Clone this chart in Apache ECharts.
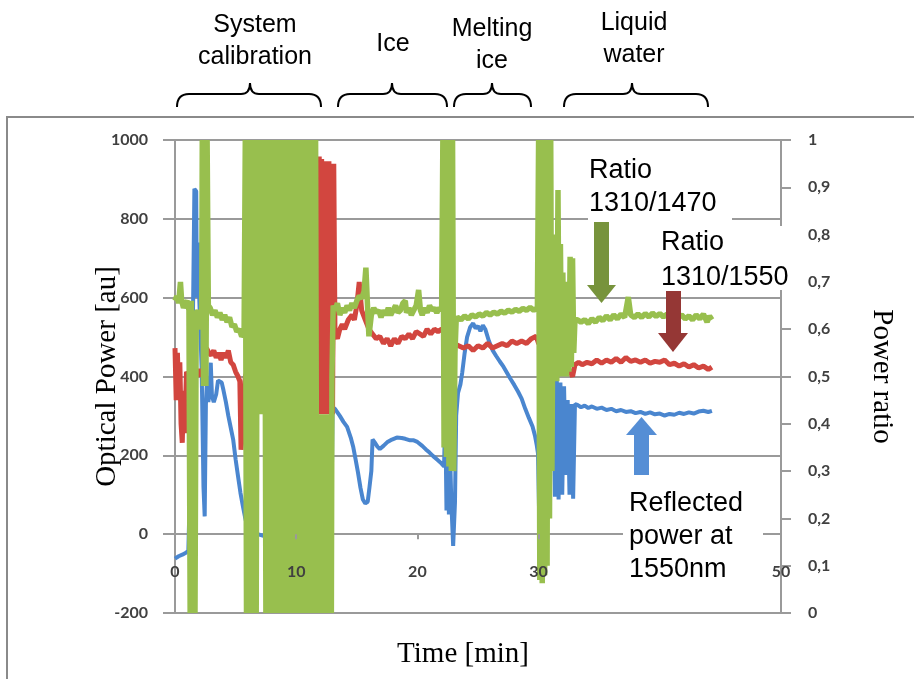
<!DOCTYPE html>
<html>
<head>
<meta charset="utf-8">
<title>Optical power and power ratio vs time</title>
<script src="https://cdn.jsdelivr.net/npm/echarts@6/dist/echarts.min.js"></script>
<style>
  html, body { margin: 0; padding: 0; background: #fff; }
  #chart { width: 914px; height: 679px; }
</style>
</head>
<body>
<div id="chart"></div>
<script>
// [time (min), value] pairs
const reflectedPower = [
  [0, -62], [0.3, -56], [0.6, -52], [0.9, -47], [1.1, -42], [1.3, 200], [1.5, 600], [1.6, 876], [1.75, 870],
  [1.8, 600], [1.9, 740], [2.0, 600], [2.2, 420], [2.35, 120], [2.45, 45], [2.55, 330], [2.65, 400], [2.75, 335],
  [2.85, 360], [2.95, 435], [3.05, 350], [3.2, 335], [3.4, 355], [3.55, 390], [3.7, 392], [3.85, 385], [4.0, 365],
  [4.2, 335], [4.4, 300], [4.6, 270], [4.8, 240], [5.0, 190], [5.2, 147], [5.4, 105], [5.6, 71], [5.8, 40], [6.0, 13],
  [6.4, 4], [6.8, 0], [7.3, -4], [8.5, 0], [10.0, 0], [11.5, 0], [12.9, 0], [13.0, 322], [13.2, 318], [13.6, 300],
  [13.9, 285], [14.2, 272], [14.5, 245], [14.7, 222], [14.9, 190], [15.1, 156], [15.3, 118], [15.5, 88], [15.7, 78],
  [15.9, 82], [16.05, 120], [16.2, 160], [16.3, 240], [16.5, 232], [16.7, 222], [16.9, 216], [17.2, 224], [17.5, 233],
  [17.9, 240], [18.3, 245], [18.7, 244], [19.0, 242], [19.4, 238], [19.7, 238], [20.0, 234], [20.4, 224], [20.7, 215],
  [21.0, 207], [21.3, 198], [21.6, 190], [21.9, 182], [22.2, 172], [22.3, 310], [22.4, 60], [22.5, 250], [22.6, 50],
  [22.7, 200], [22.8, 80], [22.95, -30], [23.1, 80], [23.2, 300], [23.35, 358], [23.55, 380], [23.7, 410], [23.9, 460],
  [24.1, 500], [24.35, 525], [24.6, 535], [24.8, 522], [25.0, 528], [25.2, 515], [25.4, 530], [25.6, 520], [25.9, 490],
  [26.2, 467], [26.5, 452], [26.8, 438], [27.1, 425], [27.4, 409], [27.7, 393], [28.0, 378], [28.3, 362], [28.6, 344],
  [28.9, 318], [29.2, 295], [29.5, 273], [29.7, 250], [29.85, 225], [29.95, 205], [30.05, 40], [30.15, -15], [30.3, -25],
  [30.6, 60], [30.9, 250], [31.2, 400], [31.35, 95], [31.5, 395], [31.65, 88], [31.8, 385], [31.95, 100], [32.1, 375],
  [32.25, 150], [32.4, 340], [32.55, 100], [32.7, 330], [32.85, 90], [33.0, 330], [33.2, 328], [33.5, 322], [33.8, 326],
  [34.1, 320], [34.4, 324], [34.8, 318], [35.2, 321], [35.6, 315], [36.0, 318], [36.4, 312], [36.8, 315], [37.2, 310],
  [37.6, 312], [38.0, 307], [38.4, 310], [38.8, 305], [39.2, 309], [39.6, 304], [40.0, 306], [40.4, 301], [40.8, 305],
  [41.2, 303], [41.6, 308], [42.0, 305], [42.4, 309], [42.8, 306], [43.2, 311], [43.6, 313], [44.0, 310], [44.3, 313]
];

const ratio1310to1550 = [
  [0, 0.56], [0.1, 0.45], [0.2, 0.55], [0.3, 0.46], [0.4, 0.53], [0.5, 0.40], [0.6, 0.36], [0.7, 0.47], [0.8, 0.38],
  [0.95, 0.51], [1.2, 0.50], [1.5, 0.51], [1.8, 0.50], [2.0, 0.515], [2.2, 0.50], [2.4, 0.52], [2.6, 0.56], [2.8, 0.55],
  [3.0, 0.545], [3.2, 0.555], [3.4, 0.54], [3.6, 0.55], [3.8, 0.535], [4.0, 0.55], [4.2, 0.54], [4.4, 0.555], [4.6, 0.53],
  [4.8, 0.525], [5.0, 0.51], [5.2, 0.50], [5.35, 0.49], [5.45, 0.345], [5.6, 0.40], [5.8, 0.5], [6.5, 0.55], [7.6, 0.66],
  [7.7, 0.99], [7.8, 0.66], [9.0, 0.6], [11.6, 0.6],
  [11.7, 0.96], [11.8, 0.42], [11.9, 0.965], [12.0, 0.42], [12.1, 0.96], [12.2, 0.42], [12.3, 0.955], [12.4, 0.42],
  [12.5, 0.955], [12.6, 0.42], [12.7, 0.955], [12.8, 0.42], [12.9, 0.95], [13.0, 0.42], [13.1, 0.95],
  [13.2, 0.59], [13.4, 0.58], [13.6, 0.60], [13.8, 0.61], [14.0, 0.60], [14.3, 0.62], [14.6, 0.63], [14.8, 0.62],
  [15.0, 0.65], [15.2, 0.70], [15.4, 0.64], [15.7, 0.62], [16.0, 0.60], [16.3, 0.59], [16.6, 0.58], [16.9, 0.585],
  [17.2, 0.57], [17.5, 0.58], [17.8, 0.565], [18.1, 0.58], [18.4, 0.57], [18.7, 0.585], [19.0, 0.58], [19.3, 0.59],
  [19.6, 0.58], [19.9, 0.595], [20.2, 0.59], [20.5, 0.585], [20.8, 0.60], [21.1, 0.59], [21.4, 0.60], [21.7, 0.595],
  [22.0, 0.60], [22.5, 0.58], [23.0, 0.57], [23.4, 0.565], [23.8, 0.56], [24.2, 0.565], [24.6, 0.555], [25.0, 0.565],
  [25.4, 0.56], [25.8, 0.57], [26.2, 0.56], [26.6, 0.565], [27.0, 0.57], [27.4, 0.565], [27.8, 0.575], [28.2, 0.57],
  [28.6, 0.575], [29.0, 0.57], [29.4, 0.58], [29.8, 0.585], [30.0, 0.57], [31.0, 0.56], [31.5, 0.55], [32.0, 0.54],
  [32.4, 0.52], [32.8, 0.50], [33.0, 0.525], [33.3, 0.53], [33.6, 0.525], [34.0, 0.53], [34.4, 0.527], [34.8, 0.535],
  [35.2, 0.528], [35.6, 0.535], [36.0, 0.53], [36.4, 0.538], [36.8, 0.53], [37.2, 0.54], [37.6, 0.532], [38.0, 0.535],
  [38.4, 0.53], [38.8, 0.535], [39.2, 0.528], [39.6, 0.532], [40.0, 0.53], [40.4, 0.535], [40.8, 0.525], [41.2, 0.528],
  [41.6, 0.522], [42.0, 0.527], [42.4, 0.52], [42.8, 0.525], [43.2, 0.518], [43.6, 0.522], [44.0, 0.515], [44.3, 0.52]
];

const ratio1310to1470 = [
  [0, 0.66], [0.15, 0.67], [0.3, 0.655], [0.45, 0.70], [0.55, 0.66], [0.7, 0.645], [0.85, 0.655], [1.0, 0.66],
  [1.15, 0.64], [1.25, 0.0], [1.35, 0.66], [1.45, 0.0], [1.55, 0.64], [1.65, 0.0], [1.75, 0.63], [1.9, 0.64],
  [2.05, 0.62], [2.2, 0.60], [2.25, 1.0], [2.35, 0.48], [2.45, 1.0], [2.55, 0.48], [2.65, 1.0], [2.75, 0.65],
  [2.9, 0.645], [3.1, 0.63], [3.3, 0.64], [3.5, 0.625], [3.7, 0.635], [3.9, 0.62], [4.1, 0.63], [4.3, 0.615],
  [4.5, 0.625], [4.7, 0.605], [4.9, 0.61], [5.1, 0.595], [5.3, 0.60], [5.5, 0.585], [5.7, 0.59],
  [5.8, 1], [5.9, 0], [6.0, 1], [6.1, 0], [6.2, 1], [6.3, 0], [6.4, 1], [6.5, 0], [6.6, 1], [6.7, 0],
  [6.8, 1], [6.9, 0.42], [7.0, 1], [7.1, 0.42], [7.2, 1], [7.3, 0.42], [7.4, 1], [7.5, 0], [7.6, 1], [7.7, 0],
  [7.8, 1], [7.9, 0], [8.0, 1], [8.1, 0], [8.2, 1], [8.3, 0], [8.4, 1], [8.5, 0], [8.6, 1], [8.7, 0], [8.8, 1],
  [8.9, 0], [9.0, 1], [9.1, 0], [9.2, 1], [9.3, 0], [9.4, 1], [9.5, 0], [9.6, 1], [9.7, 0], [9.8, 1], [9.9, 0],
  [10.0, 1], [10.1, 0], [10.2, 1], [10.3, 0], [10.4, 1], [10.5, 0], [10.6, 1], [10.7, 0], [10.8, 1], [10.9, 0],
  [11.0, 1], [11.1, 0], [11.2, 1], [11.3, 0], [11.4, 1], [11.5, 0], [11.6, 1], [11.7, 0], [11.8, 0.42], [11.9, 0],
  [12.0, 0.42], [12.1, 0], [12.2, 0.42], [12.3, 0], [12.4, 0.42], [12.5, 0], [12.6, 0.42], [12.7, 0], [12.8, 0.42],
  [12.9, 0], [12.95, 0.5], [13.05, 0.65], [13.2, 0.64], [13.4, 0.655], [13.6, 0.63], [13.8, 0.645], [14.0, 0.635],
  [14.2, 0.65], [14.4, 0.64], [14.6, 0.655], [14.8, 0.645], [15.0, 0.66], [15.2, 0.67], [15.4, 0.665], [15.6, 0.68],
  [15.75, 0.73], [15.9, 0.64], [16.0, 0.585], [16.2, 0.63], [16.4, 0.645], [16.6, 0.635], [16.8, 0.64], [17.0, 0.625],
  [17.2, 0.64], [17.4, 0.63], [17.6, 0.645], [17.8, 0.63], [18.0, 0.64], [18.2, 0.65], [18.4, 0.635], [18.6, 0.64],
  [18.8, 0.655], [19.0, 0.66], [19.1, 0.635], [19.3, 0.645], [19.5, 0.63], [19.7, 0.64], [19.9, 0.65], [20.1, 0.683],
  [20.25, 0.64], [20.4, 0.63], [20.6, 0.645], [20.8, 0.635], [21.0, 0.65], [21.2, 0.64], [21.4, 0.645], [21.6, 0.635],
  [21.8, 0.645], [22.0, 0.64], [22.1, 1], [22.2, 0.35], [22.3, 1], [22.4, 0.33], [22.5, 1], [22.6, 0.31], [22.7, 1],
  [22.8, 0.3], [22.9, 1], [23.0, 0.3], [23.1, 0.55], [23.2, 0.62], [23.3, 0.625], [23.6, 0.62], [23.9, 0.628],
  [24.2, 0.622], [24.5, 0.63], [24.8, 0.626], [25.1, 0.632], [25.4, 0.628], [25.7, 0.635], [26.0, 0.63], [26.3, 0.636],
  [26.6, 0.632], [26.9, 0.638], [27.2, 0.634], [27.5, 0.64], [27.8, 0.636], [28.1, 0.642], [28.4, 0.638], [28.7, 0.644],
  [29.0, 0.64], [29.3, 0.646], [29.6, 0.64], [29.9, 0.645], [30.0, 1], [30.1, 0.07], [30.2, 1], [30.3, 0.063],
  [30.4, 1], [30.5, 0.08], [30.6, 1], [30.7, 0.1], [30.8, 1], [30.9, 0.2], [31.0, 1], [31.1, 0.3], [31.2, 0.75],
  [31.3, 0.5], [31.4, 0.8], [31.5, 0.49], [31.6, 0.894], [31.7, 0.5], [31.8, 0.78], [31.9, 0.5], [32.0, 0.72],
  [32.1, 0.5], [32.2, 0.7], [32.3, 0.5], [32.4, 0.7], [32.5, 0.51], [32.6, 0.753], [32.7, 0.52], [32.8, 0.75],
  [32.9, 0.55], [33.0, 0.62], [33.2, 0.62], [33.5, 0.615], [33.8, 0.62], [34.1, 0.612], [34.4, 0.622], [34.7, 0.615],
  [35.0, 0.625], [35.3, 0.618], [35.6, 0.628], [35.9, 0.62], [36.2, 0.63], [36.5, 0.622], [36.8, 0.632], [37.1, 0.625],
  [37.4, 0.668], [37.6, 0.63], [37.9, 0.625], [38.2, 0.632], [38.5, 0.625], [38.8, 0.633], [39.1, 0.626], [39.4, 0.634],
  [39.7, 0.627], [40.0, 0.633], [40.3, 0.626], [40.6, 0.632], [40.9, 0.625], [41.2, 0.631], [41.5, 0.624], [41.8, 0.63],
  [42.1, 0.622], [42.4, 0.628], [42.7, 0.62], [43.0, 0.63], [43.3, 0.622], [43.6, 0.632], [43.9, 0.615], [44.1, 0.628],
  [44.3, 0.62]
];

const timeRange = [0, 50, 10];
const powerRange = [-200, 1000, 200];
const ratioRange = [0, 1, 0.1];
const phaseLabels = ['System\ncalibration', 'Ice', 'Melting\nice', 'Liquid\nwater'];
const arrowLabels = ['Ratio\n1310/1470', 'Ratio\n1310/1550', 'Reflected\npower at\n1550nm'];

const GRID = '#9a9a9a';
const tickFont = { fontFamily: 'Lato', fontWeight: 'bold', fontSize: 16, color: '#404040' };
const titleFont = { fontFamily: '"Liberation Serif"', fontSize: 29, color: '#000' };
const phaseFont = '25px "Liberation Sans"';
const calloutFont = '27px "Liberation Sans"';

// x axis sits on power = 0, i.e. 1000/1200 of the way down the 473px plot
const plotHeight = 679 - 140 - 66;
const zeroOffset = plotHeight * (0 - powerRange[0]) / (powerRange[1] - powerRange[0]);

// horizontal curly brace made of quadratic curves and straight lines
const brace = (x1, xm, x2) => {
  const stroke = { fill: 'none', stroke: '#000', lineWidth: 2 };
  const top = 94, end = 107, tip = 83;
  return {
    type: 'group', z: 110,
    children: [
      { type: 'bezierCurve', shape: { x1, y1: end, cpx1: x1, cpy1: top, x2: x1 + 12, y2: top }, style: stroke },
      { type: 'line', shape: { x1: x1 + 12, y1: top, x2: xm - 9, y2: top }, style: stroke },
      { type: 'bezierCurve', shape: { x1: xm - 9, y1: top, cpx1: xm, cpy1: top, x2: xm, y2: tip }, style: stroke },
      { type: 'bezierCurve', shape: { x1: xm, y1: tip, cpx1: xm, cpy1: top, x2: xm + 9, y2: top }, style: stroke },
      { type: 'line', shape: { x1: xm + 9, y1: top, x2: x2 - 12, y2: top }, style: stroke },
      { type: 'bezierCurve', shape: { x1: x2 - 12, y1: top, cpx1: x2, cpy1: top, x2, y2: end }, style: stroke }
    ]
  };
};

const note = (text, x, y, align, lineHeight, font) => ({
  type: 'text', x, y, z: 110,
  style: { text, font, fill: '#000', align, verticalAlign: 'top', lineHeight }
});

const whiteBox = (x, y, width, height) => ({
  type: 'rect', z: 100, shape: { x, y, width, height }, style: { fill: '#fff' }
});

const chart = echarts.init(document.getElementById('chart'));

chart.setOption({
  animation: false,
  grid: { left: 175, right: 133, top: 140, bottom: 66, outerBoundsMode: 'none', containLabel: false },
  xAxis: {
    type: 'value', position: 'bottom', offset: -zeroOffset, z: 10,
    min: timeRange[0], max: timeRange[1], interval: timeRange[2],
    name: 'Time [min]', nameLocation: 'middle', nameGap: 106, nameMoveOverlap: false,
    nameTextStyle: Object.assign({ padding: [0, 30, 0, 0] }, titleFont),
    // the zero gridline of the power axis already draws the line itself
    axisLine: { show: false, onZero: false },
    axisTick: { show: true, length: 5, lineStyle: { color: GRID, width: 2 } },
    axisLabel: Object.assign({ margin: 30 }, tickFont),
    splitLine: { show: false }
  },
  yAxis: [
    {
      type: 'value', position: 'left',
      min: powerRange[0], max: powerRange[1], interval: powerRange[2],
      name: 'Optical Power [au]', nameLocation: 'middle', nameGap: 53, nameRotate: 90, nameMoveOverlap: false,
      nameTextStyle: titleFont,
      axisLine: { show: true, lineStyle: { color: GRID, width: 2 } },
      axisTick: { show: true, length: 12, lineStyle: { color: GRID, width: 2 } },
      axisLabel: Object.assign({ margin: 27, formatter: (v) => String(v) }, tickFont),
      splitLine: { show: true, lineStyle: { color: GRID, width: 2 } }
    },
    {
      type: 'value', position: 'right',
      min: ratioRange[0], max: ratioRange[1], interval: ratioRange[2],
      name: 'Power ratio', nameLocation: 'middle', nameGap: 86, nameRotate: -90, nameMoveOverlap: false,
      nameTextStyle: titleFont,
      axisLine: { show: true, lineStyle: { color: GRID, width: 2 } },
      axisTick: { show: true, length: 10, lineStyle: { color: GRID, width: 2 } },
      axisLabel: Object.assign({
        margin: 27,
        formatter: (v) => (v === 0 || v === 1 ? String(v) : v.toFixed(1).replace('.', ','))
      }, tickFont),
      splitLine: { show: false }
    }
  ],
  series: [
    {
      name: 'Reflected power at 1550nm', type: 'line', yAxisIndex: 0, z: 2,
      data: reflectedPower, showSymbol: false, symbol: 'none',
      lineStyle: { color: '#4a86cf', width: 4 }
    },
    {
      name: 'Ratio 1310/1550', type: 'line', yAxisIndex: 1, z: 3,
      data: ratio1310to1550, showSymbol: false, symbol: 'none',
      lineStyle: { color: '#d2463f', width: 5 }
    },
    {
      name: 'Ratio 1310/1470', type: 'line', yAxisIndex: 1, z: 4,
      data: ratio1310to1470, showSymbol: false, symbol: 'none',
      lineStyle: { color: '#98bf4e', width: 5.5 }
    }
  ],
  graphic: [
    // outer frame of the original figure
    { type: 'rect', z: 1, shape: { x: 7, y: 117, width: 1000, height: 700 },
      style: { fill: 'none', stroke: '#8a8a8a', lineWidth: 2 } },

    // phases on top
    note(phaseLabels[0], 255, 9, 'center', 32, phaseFont),
    note(phaseLabels[1], 393, 28, 'center', 32, phaseFont),
    note(phaseLabels[2], 492, 13, 'center', 32, phaseFont),
    note(phaseLabels[3], 634, 7, 'center', 32, phaseFont),
    brace(177, 250, 321),
    brace(338, 392, 447),
    brace(454, 492, 531),
    brace(564, 632, 708),

    // ratio 1310/1470 callout
    whiteBox(588, 150, 144, 70),
    note(arrowLabels[0], 589, 154, 'left', 33, calloutFont),
    { type: 'rect', z: 110, shape: { x: 594, y: 222, width: 15, height: 64 }, style: { fill: '#77933c' } },
    { type: 'polygon', z: 110, shape: { points: [[587, 285], [616, 285], [601.5, 303]] }, style: { fill: '#77933c' } },

    // ratio 1310/1550 callout
    whiteBox(658, 226, 140, 64),
    note(arrowLabels[1], 661, 225, 'left', 35, calloutFont),
    { type: 'rect', z: 110, shape: { x: 666, y: 291, width: 15, height: 43 }, style: { fill: '#953735' } },
    { type: 'polygon', z: 110, shape: { points: [[658, 333], [688, 333], [673, 352]] }, style: { fill: '#953735' } },

    // reflected power callout
    { type: 'polygon', z: 110, shape: { points: [[626, 435], [657, 435], [641.5, 417]] }, style: { fill: '#558ed5' } },
    { type: 'rect', z: 110, shape: { x: 634, y: 434, width: 15, height: 41 }, style: { fill: '#558ed5' } },
    whiteBox(623, 484, 140, 104),
    note(arrowLabels[2], 629, 487, 'left', 33, calloutFont)
  ]
});
</script>
</body>
</html>
